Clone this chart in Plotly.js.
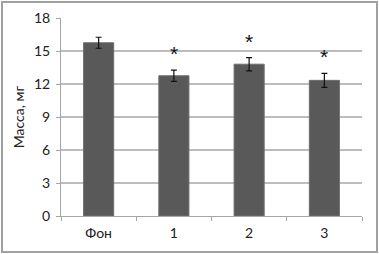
<!DOCTYPE html>
<html>
<head>
<meta charset="utf-8">
<script src="https://cdn.plot.ly/plotly-3.0.1.min.js"></script>
<style>
html,body{margin:0;padding:0;background:#fff;}
#wrap{position:relative;width:379px;height:254px;}
#chart{width:379px;height:254px;}
#frame{position:absolute;left:1px;top:1px;width:373px;height:248px;border:2px solid #a0a0a0;pointer-events:none;}
</style>
</head>
<body>
<div id="wrap"><div id="chart"></div><div id="frame"></div></div>
<script>
var categories = ["Фон", "1", "2", "3"];
var values = [15.75, 12.75, 13.8, 12.33];
var errors = [0.5, 0.52, 0.6, 0.63];
var marks = ["", "*", "*", "*"];
var yTicks = [0, 3, 6, 9, 12, 15, 18];

var font = {family: "Lato, Carlito, 'Liberation Sans', Arial, sans-serif", size: 14, color: "#222"};

var trace = {
  type: "bar",
  x: categories,
  y: values,
  width: 0.4,
  marker: {color: "#595959", line: {color: "#6e6e6e", width: 1}},
  error_y: {type: "data", array: errors, visible: true, color: "#111", thickness: 1.2, width: 3}
};

var annotations = [];
for (var i = 0; i < categories.length; i++) {
  if (marks[i]) {
    annotations.push({
      x: categories[i], y: values[i] + errors[i], xref: "x", yref: "y",
      text: marks[i], showarrow: false, yanchor: "bottom", yshift: 3,
      font: {family: "'Liberation Sans', Arial, sans-serif", size: 21, color: "#111"}
    });
  }
}

var layout = {
  width: 379, height: 254,
  margin: {l: 61, r: 17, t: 18, b: 38},
  paper_bgcolor: "#fff", plot_bgcolor: "#fff",
  font: font,
  showlegend: false,
  bargap: 0.6,
  xaxis: {
    type: "category",
    showline: true, linecolor: "#a6a6a6", linewidth: 1,
    ticks: "outside", tickson: "boundaries", ticklen: 4, tickcolor: "#a6a6a6",
    ticklabelstandoff: 4,
    showgrid: false, tickfont: font, fixedrange: true
  },
  yaxis: {
    range: [0, 18], tickvals: yTicks, ticktext: yTicks.map(String),
    showline: true, linecolor: "#a6a6a6", linewidth: 1,
    ticks: "outside", ticklen: 4, tickcolor: "#a6a6a6",
    ticklabelstandoff: 3,
    showgrid: true, gridcolor: "#bdbdbd", gridwidth: 1.5,
    zeroline: false, tickfont: font,
    title: {text: "Масса, мг", font: font, standoff: 6}
  },
  annotations: annotations
};

Plotly.newPlot("chart", [trace], layout, {staticPlot: true, displayModeBar: false});
</script>
</body>
</html>
